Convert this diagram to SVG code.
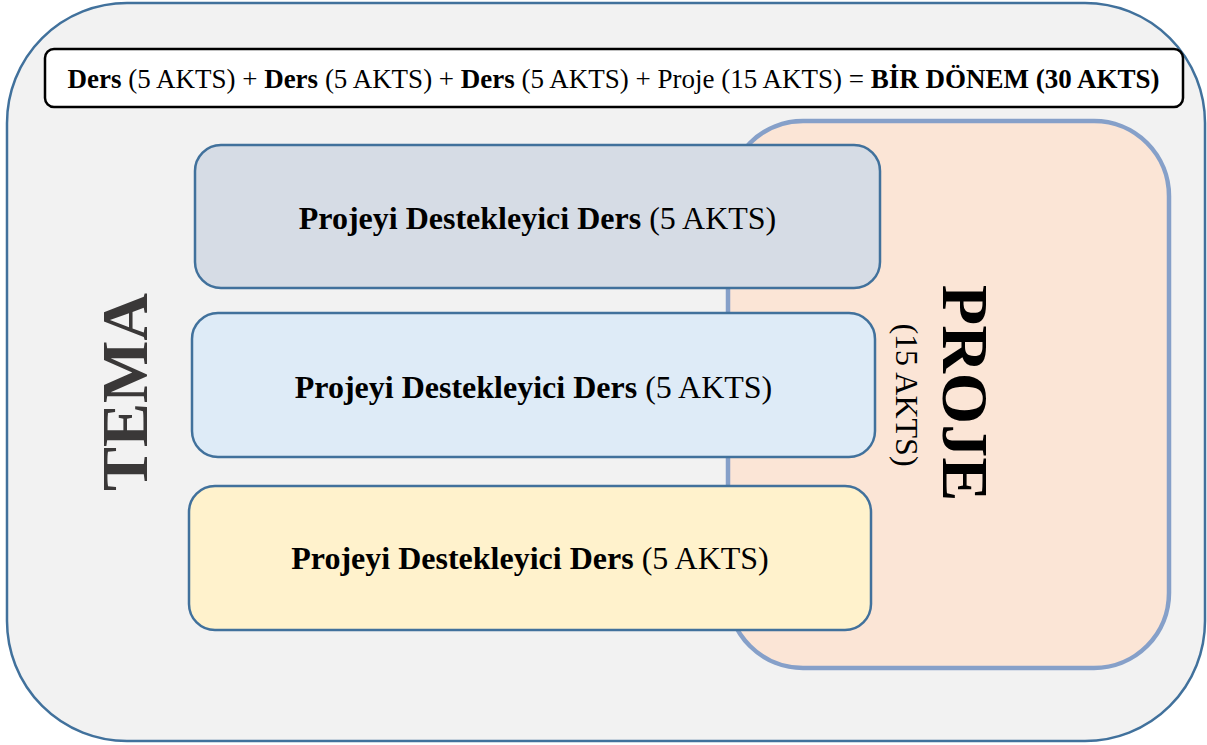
<svg xmlns="http://www.w3.org/2000/svg" width="1207" height="745" viewBox="0 0 1207 745">
<style>
.serif{font-family:"Liberation Serif","Times New Roman",serif;fill:#000}
.course{stroke:#41719c;stroke-width:2.5}
.ctext{font-size:32px;text-anchor:middle}
.b{font-weight:bold}
</style>
<rect width="1207" height="745" fill="#ffffff"/>
<g id="tema">
<rect x="7" y="3" width="1198" height="738" rx="120" ry="120" fill="#f2f2f2" stroke="#41719c" stroke-width="2.5"/>
<text class="serif b" transform="translate(147,392) rotate(-90)" text-anchor="middle" font-size="66" style="fill:#3a3838">TEMA</text>
</g>
<g id="summary">
<rect x="45" y="49" width="1138" height="58" rx="9" fill="#ffffff" stroke="#000" stroke-width="2.5"/>
<text class="serif" x="613.5" y="88" text-anchor="middle" font-size="27"><tspan class="b">Ders</tspan> (5 AKTS) + <tspan class="b">Ders</tspan> (5 AKTS) + <tspan class="b">Ders</tspan> (5 AKTS) + Proje (15 AKTS) = <tspan class="b">BİR DÖNEM (30 AKTS)</tspan></text>
</g>
<g id="proje">
<rect x="728" y="121" width="441" height="547" rx="75" ry="75" fill="#fbe5d6" stroke="#86a0c9" stroke-width="4.5"/>
<text class="serif b" transform="translate(943,393) rotate(90)" text-anchor="middle" font-size="66">PROJE</text>
<text class="serif" transform="translate(896,395) rotate(90)" text-anchor="middle" font-size="32">(15 AKTS)</text>
</g>
<g id="connectors"></g>
<g id="ders1">
<rect class="course" x="195" y="145" width="685" height="143" rx="26" fill="#d6dce5"/>
<text class="serif ctext" x="537.5" y="229"><tspan class="b">Projeyi Destekleyici Ders</tspan> (5 AKTS)</text>
</g>
<g id="ders2">
<rect class="course" x="192" y="313" width="683" height="144" rx="26" fill="#deebf7"/>
<text class="serif ctext" x="533.5" y="398"><tspan class="b">Projeyi Destekleyici Ders</tspan> (5 AKTS)</text>
</g>
<g id="ders3">
<rect class="course" x="189" y="486" width="682" height="144" rx="26" fill="#fff2cc"/>
<text class="serif ctext" x="530" y="569"><tspan class="b">Projeyi Destekleyici Ders</tspan> (5 AKTS)</text>
</g>
</svg>
